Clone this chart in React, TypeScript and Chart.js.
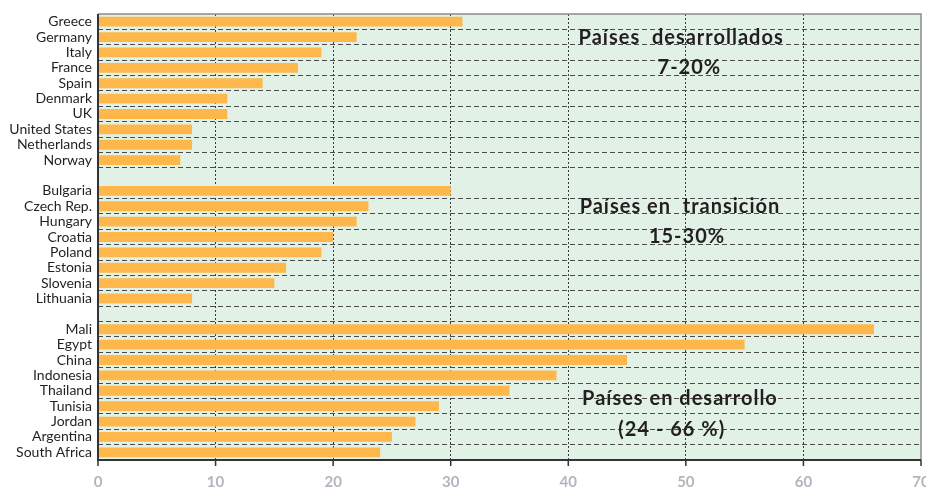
import React, { useEffect, useRef } from "react";
import { Chart, registerables } from "chart.js";

Chart.register(...registerables);

const categories = [
  "Greece", "Germany", "Italy", "France", "Spain", "Denmark", "UK", "United States", "Netherlands", "Norway",
  "",
  "Bulgaria", "Czech Rep.", "Hungary", "Croatia", "Poland", "Estonia", "Slovenia", "Lithuania",
  "",
  "Mali", "Egypt", "China", "Indonesia", "Thailand", "Tunisia", "Jordan", "Argentina", "South Africa",
];

const values: (number | null)[] = [
  31, 22, 19, 17, 14, 11, 11, 8, 8, 7,
  null,
  30, 23, 22, 20, 19, 16, 15, 8,
  null,
  66, 55, 45, 39, 35, 29, 27, 25, 24,
];

const xTicks = [0, 10, 20, 30, 40, 50, 60, 70];

const groupLabels = [
  { text: "Países  desarrollados", x: 49.6, y: 1.05 },
  { text: "7-20%", x: 50.3, y: 3 },
  { text: "Países en  transición", x: 49.5, y: 12 },
  { text: "15-30%", x: 50.1, y: 14.0 },
  { text: "Países en desarrollo", x: 49.5, y: 24.5 },
  { text: "(24 - 66 %)", x: 48.8, y: 26.5 },
];

const FONT = "Lato, 'Open Sans', 'DejaVu Sans', sans-serif";

export default function App() {
  const ref = useRef<HTMLCanvasElement | null>(null);

  useEffect(() => {
    if (!ref.current) return;

    const framePlugin = {
      id: "frame",
      beforeDatasetsDraw(chart: any) {
        const { ctx, chartArea: a } = chart;
        ctx.save();
        ctx.strokeStyle = "#8a8a8a";
        ctx.lineWidth = 1.5;
        ctx.beginPath();
        ctx.moveTo(a.left, a.top);
        ctx.lineTo(a.right, a.top);
        ctx.lineTo(a.right, a.bottom);
        ctx.stroke();
        ctx.restore();
      },
      afterDatasetsDraw(chart: any) {
        const { ctx, chartArea: a, scales } = chart;
        ctx.save();
        ctx.strokeStyle = "#333";
        ctx.lineWidth = 2;
        ctx.beginPath();
        ctx.moveTo(a.left, a.top);
        ctx.lineTo(a.left, a.bottom);
        ctx.lineTo(a.right, a.bottom);
        ctx.stroke();
        ctx.lineWidth = 1.5;
        ctx.beginPath();
        for (const t of xTicks) {
          const px = scales.x.getPixelForValue(t);
          ctx.moveTo(px, a.bottom);
          ctx.lineTo(px, a.bottom + 6);
        }
        ctx.stroke();
        ctx.fillStyle = "#231f20";
        ctx.font = "bold 20px " + FONT;
        (ctx as any).letterSpacing = "1px";
        ctx.textAlign = "center";
        ctx.textBaseline = "middle";
        for (const g of groupLabels) {
          ctx.fillText(g.text, scales.x.getPixelForValue(g.x), scales.y.getPixelForValue(g.y));
        }
        ctx.restore();
      },
    };

    const chart = new Chart(ref.current, {
      type: "bar",
      data: {
        labels: categories,
        datasets: [
          {
            data: values,
            backgroundColor: "#fdb74a",
            borderWidth: 0,
            categoryPercentage: 0.64,
            barPercentage: 1,
          },
        ],
      },
      options: {
        indexAxis: "y",
        animation: false,
        responsive: false,
        maintainAspectRatio: false,
        layout: { padding: { top: 14, right: 5, left: 0, bottom: 0 } },
        plugins: {
          legend: { display: false },
          tooltip: { enabled: false },
        },
        scales: {
          x: {
            min: 0,
            max: 70,
            afterFit: (s: any) => {
              s.height = 32;
              s.paddingLeft = 0;
              s.paddingRight = 0;
            },
            afterBuildTicks: (s: any) => {
              s.ticks = xTicks.map((v) => ({ value: v }));
            },
            border: { display: false, dash: [2, 2] },
            grid: {
              drawTicks: false,
              color: (c: any) => (c.tick && (c.tick.value === 0 || c.tick.value === 70) ? "rgba(0,0,0,0)" : "#3a3a3a"),
              lineWidth: 1,
            },
            ticks: {
              padding: 13,
              color: "#b1b5bd",
              font: { family: FONT, size: 15, weight: "bold" },
            },
          },
          y: {
            afterFit: (s: any) => {
              s.width = 98;
              s.paddingTop = 0;
              s.paddingBottom = 0;
            },
            border: { display: false, dash: [5, 3] },
            grid: {
              drawTicks: false,
              offset: true,
              color: (c: any) => (c.index === 0 || c.index === 11 || c.index === categories.length ? "rgba(0,0,0,0)" : "#4a4a4a"),
              lineWidth: 1,
            },
            ticks: {
              padding: 6,
              color: "#231f20",
              autoSkip: false,
              font: { family: FONT, size: 14 },
            },
          },
        },
      },
      plugins: [
        {
          id: "bg",
          beforeDraw(chart: any) {
            const { ctx, chartArea: a } = chart;
            ctx.save();
            ctx.fillStyle = "#e2f1e6";
            ctx.fillRect(a.left, a.top, a.right - a.left, a.bottom - a.top);
            ctx.restore();
          },
        },
        framePlugin,
      ],
    } as any);

    return () => chart.destroy();
  }, []);

  return (
    <div style={{ position: "fixed", left: 0, top: 0, width: 926, height: 492, background: "#fff" }}>
      <canvas ref={ref} width={926} height={492} style={{ width: 926, height: 492 }} />
    </div>
  );
}
